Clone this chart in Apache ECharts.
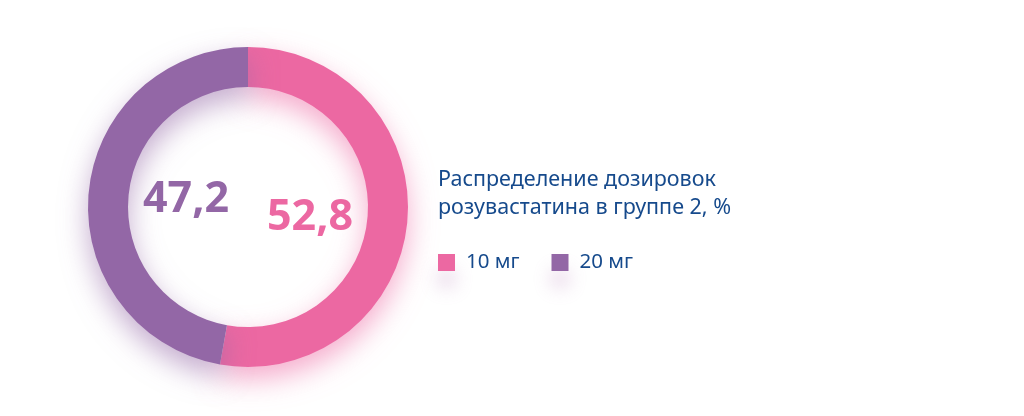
<!DOCTYPE html>
<html><head><meta charset="utf-8">
<script src="https://cdn.jsdelivr.net/npm/echarts@6/dist/echarts.min.js"></script>
<style>html,body{margin:0;padding:0;background:#fff}#c{width:1024px;height:416px}</style>
</head><body><div id="c"></div>
<script>
const categories = ['10 мг', '20 мг'];
const values = [52.8, 47.2];
const colors = ['#ec68a2', '#9367a6'];
const titleText = 'Распределение дозировок\nрозувастатина в группе 2, %';

const chart = echarts.init(document.getElementById('c'), null, {renderer: 'canvas'});
const fmt = v => String(v).replace('.', ',');
const shadowCols = ['rgba(236,104,162,0.55)', 'rgba(147,103,166,0.55)'];

chart.setOption({
  backgroundColor: '#fff',
  animation: false,
  title: {
    text: titleText,
    left: 433, top: 161,
    textStyle: {color: '#164a8c', fontFamily: 'Noto Sans', fontWeight: 'normal', fontSize: 21.5, lineHeight: 28}
  },
  legend: {
    left: 433, top: 247,
    itemWidth: 17, itemHeight: 17, itemGap: 32,
    icon: 'rect',
    data: categories,
    itemStyle: {shadowBlur: 18, shadowOffsetY: 16, shadowColor: 'rgba(180,120,180,0.3)'},
    textStyle: {color: '#164a8c', fontFamily: 'Noto Sans', fontSize: 20.5, padding: [0,0,0,6]}
  },
  series: [{
    type: 'pie',
    center: [248, 207],
    radius: [120, 160],
    startAngle: 90,
    clockwise: true,
    label: {show: false},
    labelLine: {show: false},
    emphasis: {disabled: true},
    data: categories.map((c, i) => ({
      name: c, value: values[i],
      itemStyle: {color: colors[i], shadowBlur: 28, shadowOffsetY: 12, shadowColor: shadowCols[i]}
    }))
  }],
  graphic: [
    {type: 'text', left: 143, top: 178, style: {text: fmt(values[1]), fill: colors[1], font: 'bold 43px "Noto Sans"', shadowBlur: 22, shadowOffsetY: 12, shadowColor: 'rgba(147,103,166,0.35)'}},
    {type: 'text', left: 267, top: 196, style: {text: fmt(values[0]), fill: colors[0], font: 'bold 43px "Noto Sans"', shadowBlur: 22, shadowOffsetY: 12, shadowColor: 'rgba(236,104,162,0.35)'}}
  ]
});
</script></body></html>
